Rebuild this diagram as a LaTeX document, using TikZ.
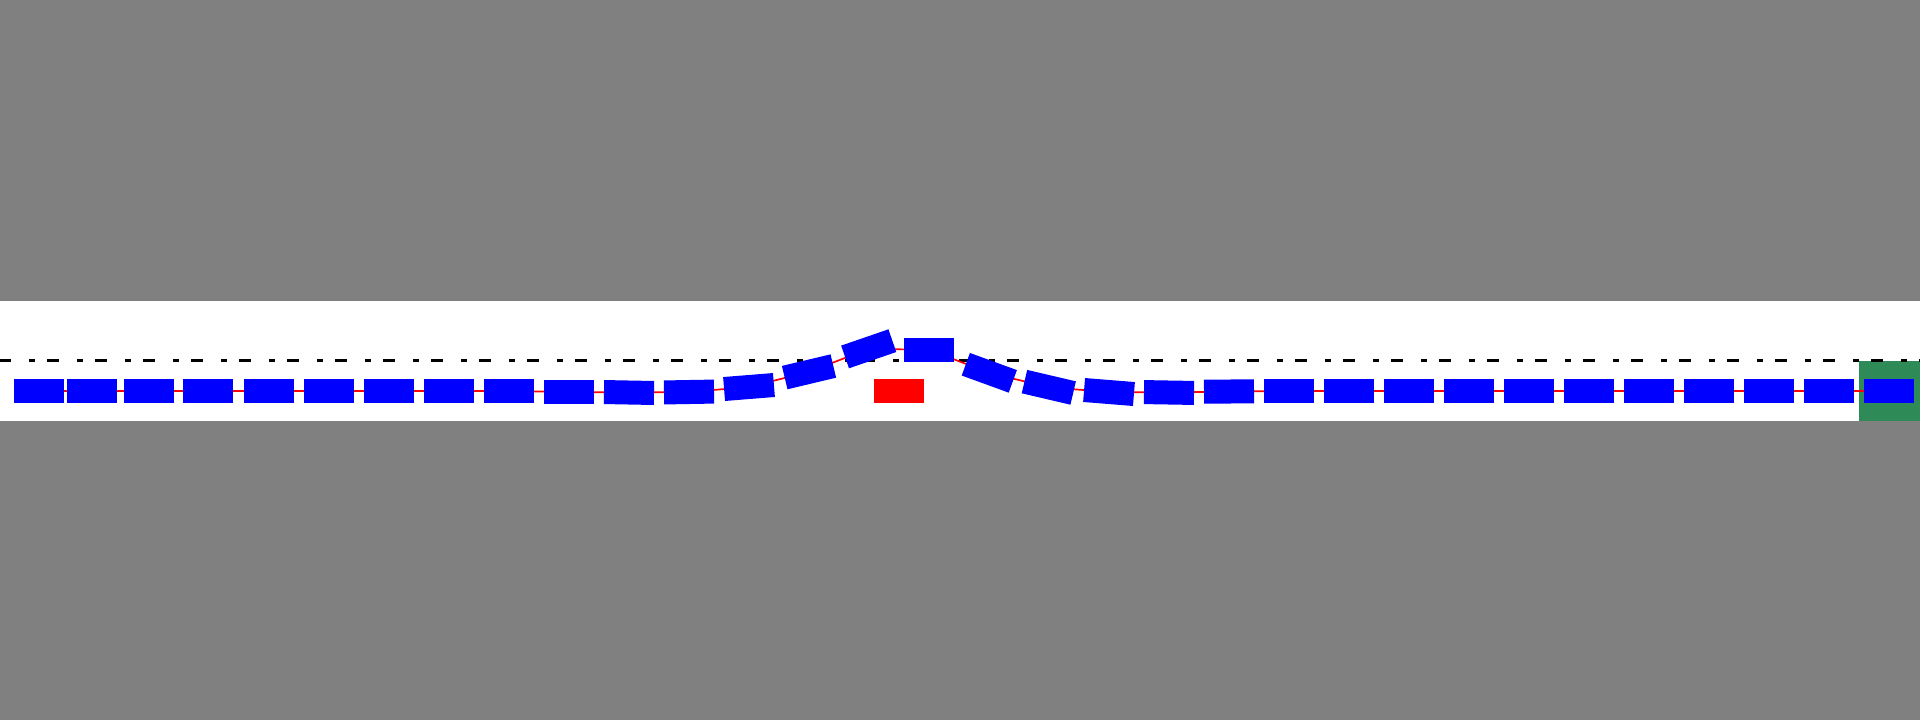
\documentclass[tikz,border=0pt]{standalone}
\definecolor{roadgrey}{HTML}{808080}
\definecolor{goalgreen}{HTML}{2E8B57}
\begin{document}
\begin{tikzpicture}[x=0.5pt,y=-0.5pt,
  car/.style={rectangle, fill=blue, minimum width=25pt, minimum height=12pt, inner sep=0pt, outer sep=0pt},
  obstacle/.style={rectangle, fill=red, minimum width=25pt, minimum height=12pt, inner sep=0pt, outer sep=0pt},
  traj/.style={draw=red, line width=0.85pt},
  lane/.style={draw=black, line width=1.5pt, dash pattern=on 6pt off 9pt on 3pt off 6pt}]
\useasboundingbox (0,0) rectangle (1920,720);
\clip (0,0) rectangle (1920,720);
\fill[white] (0,301) rectangle (1920,421);
\fill[roadgrey] (0,0) rectangle (1920,301);
\fill[roadgrey] (0,421) rectangle (1920,720);
\fill[goalgreen] (1859,361) rectangle (1920,421);
\draw[lane] (-1,360.5) -- (1921,360.5);
\foreach \i/\px/\py/\a in {
  1/39/391/0, 2/92/391/0, 3/149/391/0, 4/208/391/0, 5/269/391/0,
  6/329/391/0, 7/389/391/0, 8/449/391/0, 9/509/391/0, 10/569/392/0,
  11/629/392.5/-1.1, 12/689/392/1, 13/749/387/4.6, 14/809/371.8/13.4,
  15/868.7/348.8/19, 16/929/349.8/0, 17/989.3/372.8/-20, 18/1048.8/387.3/-13.2,
  19/1109/392/-4.6, 20/1169/392.5/-1, 21/1229/391.5/0.5, 22/1289/391/0,
  23/1349/391/0, 24/1409/391/0, 25/1469/391/0, 26/1529/391/0, 27/1589/391/0,
  28/1649/391/0, 29/1709/391/0, 30/1769/391/0, 31/1829/391/0, 32/1889/391/0}
  {\coordinate (p\i) at (\px,\py);}
\draw[traj] (p1) \foreach \i in {2,...,32}{ -- (p\i)};
\node[obstacle] (obs) at (899,391) {};
\foreach \i/\a in {
  1/0, 2/0, 3/0, 4/0, 5/0, 6/0, 7/0, 8/0, 9/0, 10/0,
  11/-1.1, 12/1, 13/4.6, 14/13.4, 15/19, 16/0, 17/-20, 18/-13.2,
  19/-4.6, 20/-1, 21/0.5, 22/0, 23/0, 24/0, 25/0, 26/0, 27/0,
  28/0, 29/0, 30/0, 31/0, 32/0}
  {\node[car, rotate=\a] (c\i) at (p\i) {};}
\end{tikzpicture}
\end{document}
